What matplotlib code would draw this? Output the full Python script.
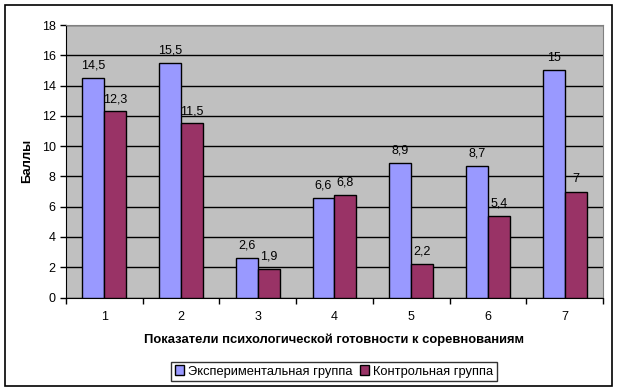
import matplotlib
matplotlib.use("Agg")
import matplotlib.pyplot as plt
import numpy as np
from matplotlib.patches import Rectangle

plt.rcParams['font.family'] = ['Liberation Sans', 'DejaVu Sans']

# Данные диаграммы
categories = ['1', '2', '3', '4', '5', '6', '7']
exp_group = [14.5, 15.5, 2.6, 6.6, 8.9, 8.7, 15]
ctrl_group = [12.3, 11.5, 1.9, 6.8, 2.2, 5.4, 7]
series_names = ['Экспериментальная группа', 'Контрольная группа']
colors = ['#9999FF', '#993366']

fig = plt.figure(figsize=(6.18, 3.92), dpi=100)
ax = fig.add_axes([66 / 618, 1 - 297.5 / 392, (603 - 66) / 618, (297.5 - 25) / 392])
ax.set_facecolor('#C0C0C0')

x = np.arange(len(categories))
w = 1 / 3.5
bars1 = ax.bar(x - w / 2, exp_group, w, color=colors[0], edgecolor='black', linewidth=1, label=series_names[0], zorder=3)
bars2 = ax.bar(x + w / 2, ctrl_group, w, color=colors[1], edgecolor='black', linewidth=1, label=series_names[1], zorder=3)

def fmt(v):
    return ('%g' % v).replace('.', ',')

for bars, vals in [(bars1, exp_group), (bars2, ctrl_group)]:
    for b, v in zip(bars, vals):
        ax.annotate(fmt(v), (b.get_x() + b.get_width() / 2, v), xytext=(0, 4.5),
                    textcoords='offset points', ha='center', va='bottom', fontsize=9)

ax.set_xlim(-0.5, len(categories) - 0.5)
ax.set_ylim(0, 18)
ax.set_yticks(range(0, 19, 2))
ax.set_xticks(x)
ax.set_xticklabels(categories)
ax.set_xticks(np.arange(-0.5, len(categories), 1), minor=True)
ax.tick_params(axis='x', which='major', length=0, pad=10, labelsize=9)
ax.tick_params(axis='x', which='minor', length=4, direction='out', width=1)
ax.tick_params(axis='y', length=4, direction='out', width=1, labelsize=9)
ax.yaxis.grid(True, color='black', linewidth=1, zorder=1)
ax.set_axisbelow(True)

for side in ['top', 'right']:
    ax.spines[side].set_color('#808080')
ax.spines['left'].set_color('black')
ax.spines['bottom'].set_color('black')

ax.set_xlabel('Показатели психологической готовности к соревнованиям', fontsize=9.4,
              fontweight='bold', labelpad=7)
ax.set_ylabel('Баллы', fontsize=9.4, fontweight='bold', labelpad=6)

leg = fig.legend(loc='center', bbox_to_anchor=(334 / 618, 1 - 371.5 / 392), ncol=2,
                 frameon=True, fancybox=False, edgecolor='black', fontsize=9.3,
                 handlelength=0.7, handleheight=0.7, handletextpad=0.3, columnspacing=0.6,
                 borderpad=0.3)
leg.get_frame().set_linewidth(1)

fig.patches.append(Rectangle((5 / 618, 1 - 386 / 392), (612 - 5) / 618, (386 - 5) / 392,
                             transform=fig.transFigure, fill=False, edgecolor='black', linewidth=1.2))

fig.savefig('out.png', dpi=100)
